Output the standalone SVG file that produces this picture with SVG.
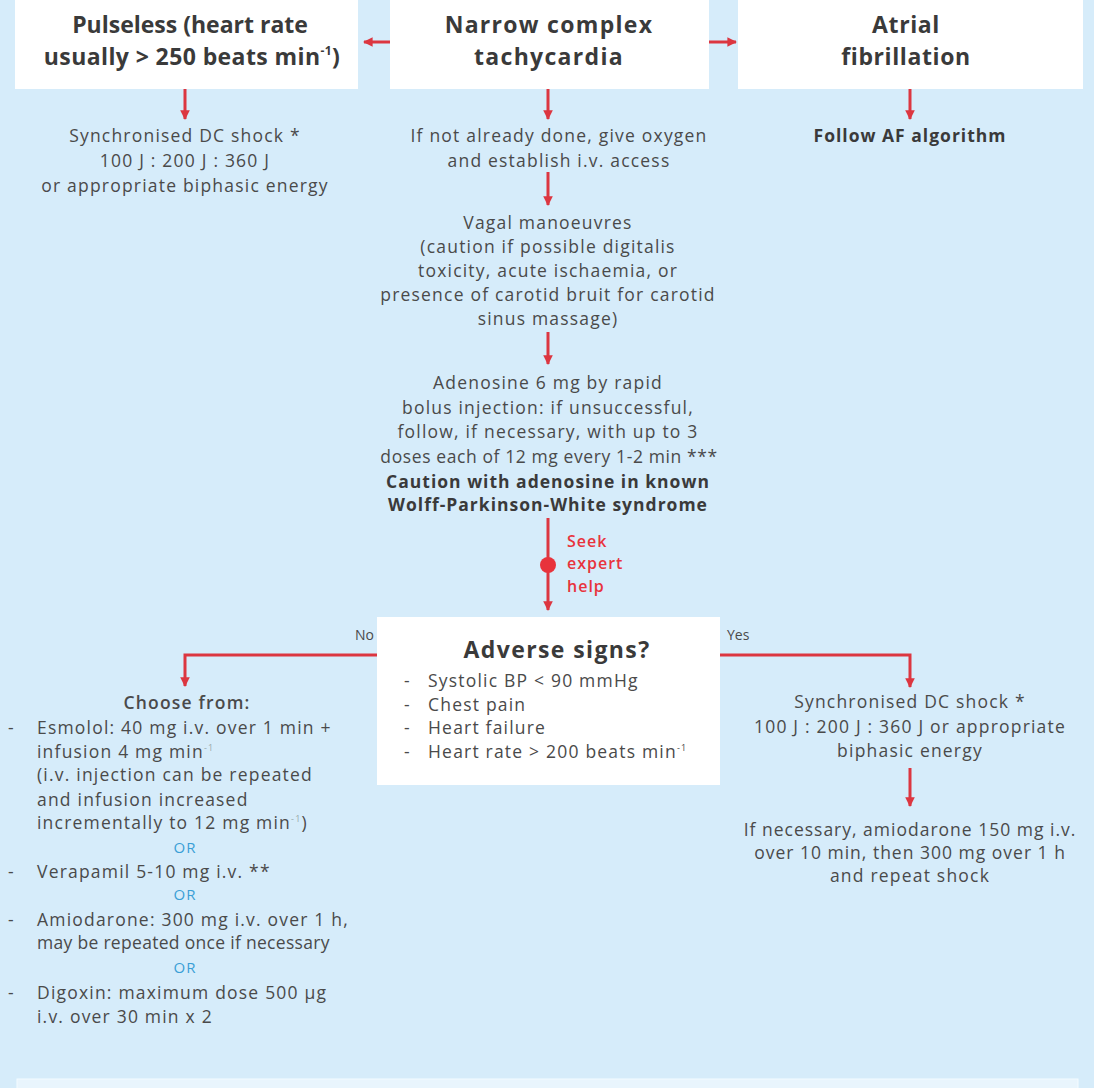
<svg xmlns="http://www.w3.org/2000/svg" width="1094" height="1088" viewBox="0 0 1094 1088">
<style>
.bg{fill:#d6ecfa}
.box{fill:#ffffff}
.title{font-family:"Open Sans","Liberation Sans",sans-serif;font-weight:bold;font-size:23px;fill:#3a3a3a;text-anchor:middle}
.t{font-family:"Open Sans","Liberation Sans",sans-serif;font-size:17.5px;letter-spacing:1.2px;fill:#4a4a4a}
.c{text-anchor:middle}
.b{font-weight:bold;fill:#3a3a3a;letter-spacing:1px}
.or{font-family:"Open Sans","Liberation Sans",sans-serif;font-size:15px;letter-spacing:1px;fill:#3a9fd6;text-anchor:middle}
.red{font-family:"Open Sans","Liberation Sans",sans-serif;font-size:16px;letter-spacing:1px;font-weight:600;fill:#e8333c}
.yn{font-family:"Open Sans","Liberation Sans",sans-serif;font-size:14px;fill:#4a4a4a}
.ln{fill:none;stroke:#dc3640;stroke-width:3}
</style>
<defs>
<marker id="ah" viewBox="0 0 10 10" refX="9" refY="5" markerWidth="3.2" markerHeight="3.2" orient="auto" markerUnits="strokeWidth">
<path d="M0,0 L10,5 L0,10 Z" fill="#dc3640"/>
</marker>
</defs>
<rect class="bg" x="0" y="0" width="1094" height="1088"/>
<rect x="17" y="1079" width="1061" height="12" fill="#e9f5fd" stroke="#f4fbff" stroke-width="1"/>

<g id="connectors">
<line class="ln" x1="390" y1="42" x2="364" y2="42" marker-end="url(#ah)"/>
<line class="ln" x1="709" y1="42" x2="736" y2="42" marker-end="url(#ah)"/>
<line class="ln" x1="185" y1="89" x2="185" y2="119" marker-end="url(#ah)"/>
<line class="ln" x1="548" y1="89" x2="548" y2="119" marker-end="url(#ah)"/>
<line class="ln" x1="910" y1="89" x2="910" y2="119" marker-end="url(#ah)"/>
<line class="ln" x1="548" y1="172" x2="548" y2="205" marker-end="url(#ah)"/>
<line class="ln" x1="548" y1="332" x2="548" y2="364" marker-end="url(#ah)"/>
<line class="ln" x1="548" y1="518" x2="548" y2="610" marker-end="url(#ah)"/>
<circle cx="548" cy="565" r="8" fill="#e8333c"/>
<polyline class="ln" points="377,655 185,655 185,686" marker-end="url(#ah)"/>
<polyline class="ln" points="720,655 910,655 910,687" marker-end="url(#ah)"/>
<line class="ln" x1="910" y1="768" x2="910" y2="806" marker-end="url(#ah)"/>
<text class="red" x="567" y="547">Seek</text>
<text class="red" x="567" y="569">expert</text>
<text class="red" x="567" y="592">help</text>
<text class="yn" x="355" y="640">No</text>
<text class="yn" x="727" y="640">Yes</text>
</g>

<g id="pulseless">
<rect class="box" x="15" y="0" width="343" height="89"/>
<text class="title" x="190" y="33">Pulseless (heart rate</text>
<text class="title" x="192" y="65" letter-spacing="0.4">usually &gt; 250 beats min<tspan font-size="12" dy="-10">-1</tspan><tspan dy="10">)</tspan></text>
</g>

<g id="narrow">
<rect class="box" x="390" y="0" width="319" height="89"/>
<text class="title" x="549" y="33" letter-spacing="1.3">Narrow complex</text>
<text class="title" x="549" y="65" letter-spacing="1.3">tachycardia</text>
</g>

<g id="af">
<rect class="box" x="738" y="0" width="345" height="89"/>
<text class="title" x="906" y="33" letter-spacing="0.6">Atrial</text>
<text class="title" x="906" y="65" letter-spacing="0.6">fibrillation</text>
</g>

<g id="shock1">
<text class="t c" x="185" y="142">Synchronised DC shock *</text>
<text class="t c" x="185" y="167">100 J : 200 J : 360 J</text>
<text class="t c" x="185" y="192">or appropriate biphasic energy</text>
</g>

<g id="oxygen">
<text class="t c" x="559" y="142">If not already done, give oxygen</text>
<text class="t c" x="559" y="167">and establish i.v. access</text>
</g>

<g id="afalg">
<text class="t c b" x="910" y="142">Follow AF algorithm</text>
</g>

<g id="vagal">
<text class="t c" x="548" y="229">Vagal manoeuvres</text>
<text class="t c" x="548" y="253">(caution if possible digitalis</text>
<text class="t c" x="548" y="277">toxicity, acute ischaemia, or</text>
<text class="t c" x="548" y="301">presence of carotid bruit for carotid</text>
<text class="t c" x="548" y="325">sinus massage)</text>
</g>

<g id="adenosine">
<text class="t c" x="548" y="389">Adenosine 6 mg by rapid</text>
<text class="t c" x="548" y="414">bolus injection: if unsuccessful,</text>
<text class="t c" x="548" y="438">follow, if necessary, with up to 3</text>
<text class="t c" x="549" y="463" style="letter-spacing:0.6px">doses each of 12 mg every 1-2 min ***</text>
<text class="t c b" x="548" y="488">Caution with adenosine in known</text>
<text class="t c b" x="548" y="511">Wolff-Parkinson-White syndrome</text>
</g>

<g id="adverse">
<rect class="box" x="377" y="617" width="343" height="168"/>
<text class="title" x="557" y="658" letter-spacing="1.4">Adverse signs?</text>
<text class="t" x="404" y="687">-</text><text class="t" x="428" y="687">Systolic BP &lt; 90 mmHg</text>
<text class="t" x="404" y="711">-</text><text class="t" x="428" y="711">Chest pain</text>
<text class="t" x="404" y="734">-</text><text class="t" x="428" y="734">Heart failure</text>
<text class="t" x="404" y="758">-</text><text class="t" x="428" y="758">Heart rate &gt; 200 beats min<tspan font-size="9" dy="-7">-1</tspan></text>
</g>

<g id="choose">
<text class="t c" x="187" y="709" font-weight="600">Choose from:</text>
<text class="t" x="8" y="734">-</text><text class="t" x="37" y="734">Esmolol: 40 mg i.v. over 1 min +</text>
<text class="t" x="37" y="758">infusion 4 mg min<tspan font-size="9" dy="-7" fill="#9aa">-1</tspan></text>
<text class="t" x="37" y="781">(i.v. injection can be repeated</text>
<text class="t" x="37" y="806">and infusion increased</text>
<text class="t" x="37" y="829">incrementally to 12 mg min<tspan font-size="9" dy="-7" fill="#9aa">-1</tspan><tspan dy="7">)</tspan></text>
<text class="or" x="185" y="853">OR</text>
<text class="t" x="8" y="878">-</text><text class="t" x="37" y="878">Verapamil 5-10 mg i.v. **</text>
<text class="or" x="185" y="900">OR</text>
<text class="t" x="8" y="926">-</text><text class="t" x="37" y="926">Amiodarone: 300 mg i.v. over 1 h,</text>
<text class="t" x="37" y="949" style="letter-spacing:0.3px">may be repeated once if necessary</text>
<text class="or" x="185" y="973">OR</text>
<text class="t" x="8" y="999">-</text><text class="t" x="37" y="999">Digoxin: maximum dose 500 µg</text>
<text class="t" x="37" y="1023">i.v. over 30 min x 2</text>
</g>

<g id="shock2">
<text class="t c" x="910" y="708">Synchronised DC shock *</text>
<text class="t c" x="910" y="733">100 J : 200 J : 360 J or appropriate</text>
<text class="t c" x="910" y="757">biphasic energy</text>
</g>

<g id="amiodarone">
<text class="t c" x="910" y="836" style="letter-spacing:1px">If necessary, amiodarone 150 mg i.v.</text>
<text class="t c" x="910" y="859" style="letter-spacing:1px">over 10 min, then 300 mg over 1 h</text>
<text class="t c" x="910" y="882">and repeat shock</text>
</g>
</svg>
